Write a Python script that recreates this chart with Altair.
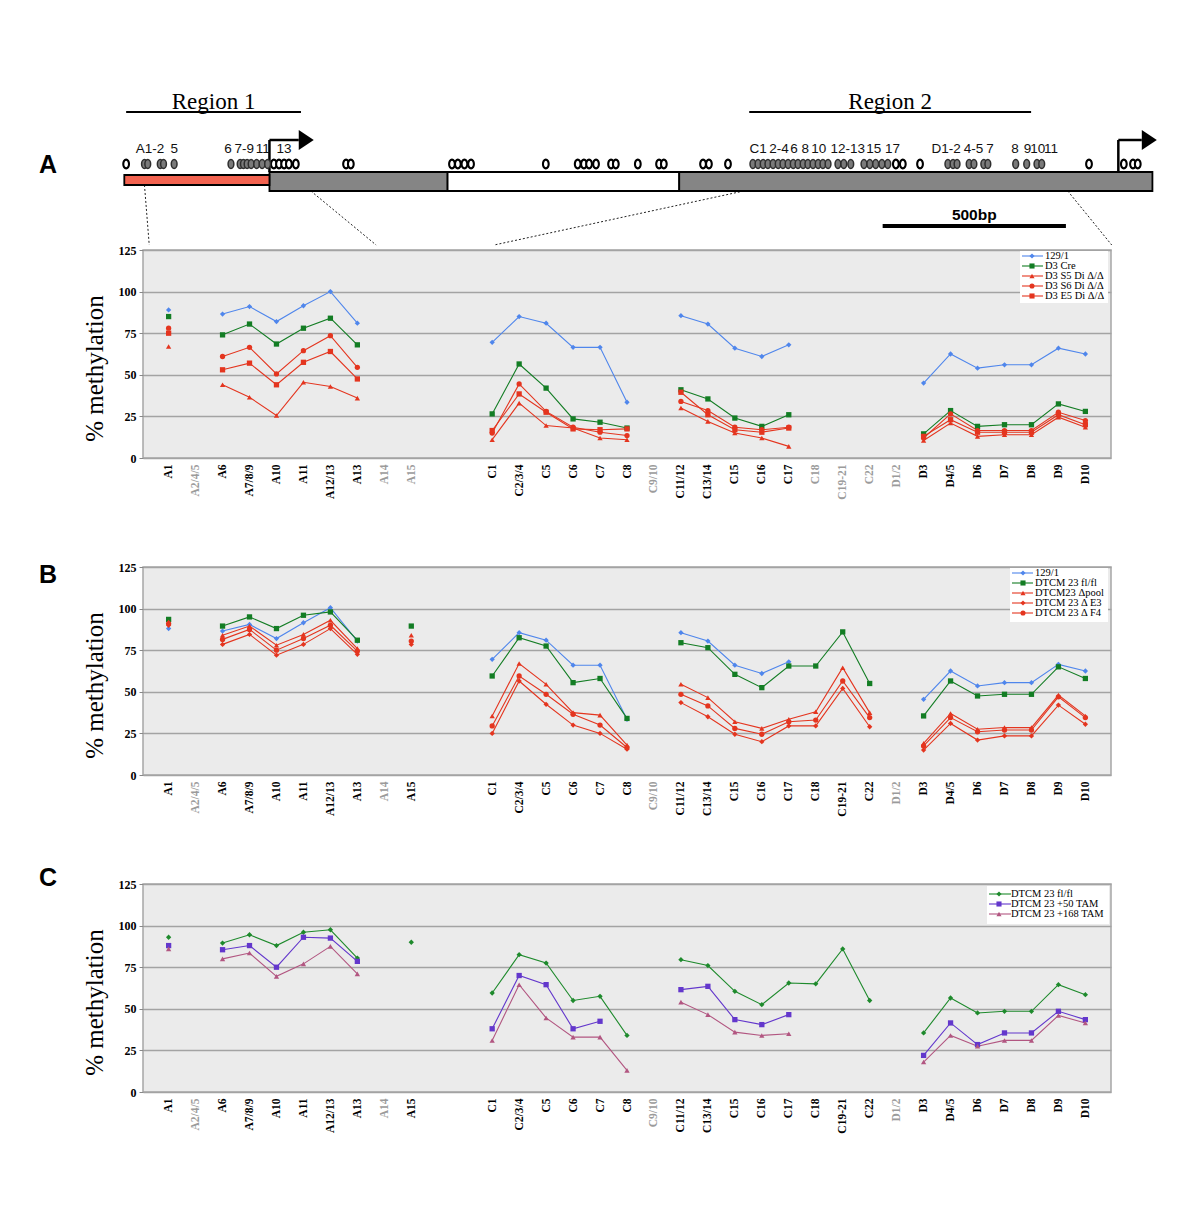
import json
import altair as alt
import pandas as pd

SERIF = "Liberation Serif"
SANS = "Liberation Sans"
N = None

# ---------------- categories (x axis) ----------------
CATS = ["A1", "A2/4/5", "A6", "A7/8/9", "A10", "A11", "A12/13", "A13", "A14", "A15",
        " ", "  ",
        "C1", "C2/3/4", "C5", "C6", "C7", "C8", "C9/10", "C11/12", "C13/14", "C15", "C16",
        "C17", "C18", "C19-21", "C22",
        "D1/2", "D3", "D4/5", "D6", "D7", "D8", "D9", "D10"]

GREY_A = ["A2/4/5", "A14", "A15", "C9/10", "C18", "C19-21", "C22", "D1/2"]
GREY_BC = ["A2/4/5", "A14", "C9/10", "D1/2"]

# ---------------- panel A ----------------
A_NAMES = ["129/1", "D3 Cre", "D3 S5 Di \u0394/\u0394", "D3 S6 Di \u0394/\u0394", "D3 E5 Di \u0394/\u0394"]
#          A1  A2  A6   A7   A10  A11  A12  A13  A14 A15 gap gap C1   C2   C5   C6   C7   C8   C9 C11  C13  C15 C16 C17 C18 C19 C22 D1 D3  D4   D6  D7  D8  D9  D10
A_WT   = [89, N, 86.5, 91, 82, 91.5, 100, 81, N, N, N, N, 69.5, 85, 81, 66.5, 66.5, 33.5, N, 85.5, 80.5, 66, 61, 68, N, N, N, N, 45, 62.5, 54, 56, 56, 66, 62.5]
A_CRE  = [85, N, 74, 80.5, 68.5, 78, 84, 68, N, N, N, N, 26.5, 56.5, 42, 23.5, 21.5, 18, N, 41, 35.5, 24, 19, 26, N, N, N, N, 14.5, 28.5, 19, 20, 20, 32.5, 28]
A_S5   = [67, N, 44, 36.5, 25.5, 45.5, 43, 36, N, N, N, N, 11, 33, 19.5, 18, 12, 11, N, 30, 22, 15, 12, 7, N, N, N, N, 10.5, 21, 13, 14, 14, 24.5, 18.5]
A_S6   = [78, N, 61, 66.5, 50.5, 64.5, 73.5, 54.5, N, N, N, N, 15, 44.5, 28, 18.5, 15.5, 13.5, N, 34, 28.5, 18.5, 17, 18.5, N, N, N, N, 12, 26.5, 16.5, 16.5, 16.5, 27.5, 22.5]
A_E5   = [75, N, 53, 57, 44, 57.5, 64, 47.5, N, N, N, N, 16.5, 38.5, 27.5, 17.5, 17, 17.5, N, 39.5, 26, 17, 15.5, 18, N, N, N, N, 13, 23, 15.5, 15.5, 15.5, 26, 20]

# ---------------- panel B ----------------
B_NAMES = ["129/1", "DTCM 23 fl/fl", "DTCM23 \u0394pool", "DTCM 23 \u0394 E3", "DTCM 23 \u0394 F4"]
B_WT   = [88, N, 86.5, 90.5, 82, 91.5, 100.5, 80.5, N, N, N, N, 69.5, 85.5, 81, 66, 66, 33.5, N, 85.5, 80.5, 66, 61, 68, N, N, N, N, 45.5, 62.5, 53.5, 55.5, 55.5, 66.5, 62.5]
B_FL   = [93.5, N, 89.5, 95, 88, 96, 98, 81, N, 89.5, N, N, 59.5, 82.5, 77.5, 55.5, 58, 34, N, 79.5, 76.5, 60.5, 52.5, 65.5, 65.5, 86, 55, N, 35.5, 56.5, 47.5, 48.5, 48.5, 65, 58]
B_POOL = [92, N, 84, 89.5, 78, 84.5, 93, 76, N, 84, N, N, 35.5, 67, 54.5, 37.5, 36, 18, N, 54.5, 46.5, 32, 28, 33.5, 38, 64.5, 37.5, N, 19, 37, 27.5, 28.5, 28.5, 48, 35.5]
B_E3   = [90, N, 78.5, 84.5, 72, 78.5, 88, 72.5, N, 78.5, N, N, 25, 56.5, 42.5, 30, 25, 15.5, N, 43.5, 35, 24.5, 20, 29.5, 29.5, 52, 29, N, 15, 31, 21, 23.5, 23.5, 42, 30.5]
B_F4   = [91, N, 81.5, 87.5, 75, 82, 90, 74.5, N, 80.5, N, N, 29.5, 59.5, 48.5, 36.5, 30, 16.5, N, 48.5, 41.5, 28, 24.5, 32, 33, 56.5, 34.5, N, 17.5, 34.5, 26, 27, 27, 47, 34.5]

# ---------------- panel C ----------------
C_NAMES = ["DTCM 23 fl/fl", "DTCM 23 +50 TAM", "DTCM 23 +168 TAM"]
C_FL   = [93, N, 89.5, 94.5, 88, 96, 97.5, 80.5, N, 90, N, N, 59.5, 82.5, 77.5, 55, 57.5, 34, N, 79.5, 76, 60.5, 52.5, 65.5, 65, 86, 55, N, 35.5, 56.5, 47.5, 48.5, 48.5, 64.5, 58.5]
C_50   = [88, N, 85.5, 88, 75, 93, 92.5, 78.5, N, N, N, N, 38, 70, 64.5, 38, 42.5, N, N, 61.5, 63.5, 43.5, 40.5, 46.5, N, N, N, N, 22, 41.5, 28.5, 35.5, 35.5, 48.5, 43.5]
C_168  = [86, N, 80, 83.5, 69.5, 77, 87.5, 71, N, N, N, N, 31, 64.5, 44.5, 33, 33, 13, N, 54, 46.5, 36, 34, 35, N, N, N, N, 18, 34, 27.5, 31, 31, 46, 41.5]

# ---------------- gene map (bp) ----------------
REGION_NAMES = ["Region 1", "Region 2"]
REGION_START = [5, 1705]
REGION_END = [482, 2474]
BAR_START = [0, 396, 882, 1514]
BAR_END = [396, 882, 1514, 2805]
BAR_FILL = ["#f36350", "#858585", "#ffffff", "#858585"]
PROMOTER_BP = [396, 2712]
ARROW_END_BP = [476, 2776]
SITES_OPEN = [5, 408, 422, 436, 449, 468, 605, 618, 894, 910, 928, 946, 1150, 1237, 1254,
              1268, 1287, 1328, 1341, 1401, 1459, 1472, 1579, 1595, 1647, 2105, 2124, 2171,
              2632, 2727, 2752, 2765]
SITES_GREY = [55, 64, 98, 107, 136, 291, 316, 325, 335, 346, 361, 376, 391,
              1715, 1729, 1743, 1756, 1770, 1784, 1797, 1811, 1825, 1838, 1852, 1865, 1879,
              1893, 1906, 1920, 1947, 1963, 1982, 2018, 2034, 2050, 2067, 2083,
              2247, 2261, 2272, 2305, 2318, 2345, 2356, 2432, 2462, 2490, 2503]
SITE_LABELS = ["A1-2", "5", "6", "7-9", "11", "13", "C1", "2-4", "6", "8", "10", "12-13",
               "15", "17", "D1-2", "4-5", "7", "8", "9", "10", "11"]
SITE_LABEL_BP = [70, 136, 283, 327, 378, 436, 1729, 1786, 1827, 1858, 1895, 1974,
                 2045, 2096, 2242, 2317, 2362, 2430, 2464, 2492, 2528]
SCALE_START = 2069
SCALE_LEN = 500
CONN_TOP = [55, 509, 1690, 2574]
CONN_BOTTOM = [68, 687, 1009, 2694]

W = 968
H = 208
ELLIPSE = "M0,-1 A0.65,1 0 1,1 0,1 A0.65,1 0 1,1 0,-1 Z"
HEAD = "M0,-1 L1.5,0 L0,1 Z"


def long_df(names, vals):
    rows = []
    for name, vs in zip(names, vals):
        seg = 0
        for cat, v in zip(CATS, vs):
            if v is None:
                seg += 1
                continue
            rows.append({"cat": cat, "value": v, "series": name, "seg": f"{name}|{seg}"})
    return pd.DataFrame(rows)


def panel(names, vals, colors, shapes, grey, letter, letter_y, box, rows_y, line_x, mark_x, text_x):
    df = long_df(names, vals)
    color = alt.Color("series:N", scale=alt.Scale(domain=names, range=colors), legend=None)
    shape = alt.Shape("series:N", scale=alt.Scale(domain=names, range=shapes), legend=None)
    label_color = {"condition": {"test": f"indexof({json.dumps(grey)}, datum.value) >= 0",
                                 "value": "#9b9b9b"}, "value": "#000000"}
    x = alt.X("cat:N", scale=alt.Scale(type="point", domain=CATS, padding=0.95),
              axis=alt.Axis(title=None, labelAngle=-90, labelFont=SERIF, labelFontSize=11.5,
                            labelFontWeight="bold", labelColor=label_color, ticks=False,
                            domain=False, labelPadding=6, labelOverlap=False, grid=False))
    y = alt.Y("value:Q", scale=alt.Scale(domain=[0, 125], nice=False),
              axis=alt.Axis(values=[0, 25, 50, 75, 100, 125], title="% methylation",
                            titleFont=SERIF, titleFontSize=25, titleFontWeight="normal",
                            titleColor="black", titleX=-49, titleY=118, titleAngle=270,
                            titleAlign="center", titleBaseline="middle",
                            labelFont=SERIF, labelFontSize=12, labelFontWeight="bold",
                            labelColor="black", labelPadding=3, tickSize=4, tickColor="#888888",
                            domain=False, grid=True, gridColor="#a3a3a3", gridWidth=1.4))
    base = alt.Chart(df)
    lines = base.mark_line(strokeWidth=1.1).encode(x=x, y=y, color=color, detail="seg:N")
    pts = base.mark_point(filled=True, size=28, opacity=1).encode(x=x, y=y, color=color, shape=shape)
    let = alt.Chart(pd.DataFrame({"t": [letter]})).mark_text(
        font=SANS, fontSize=25, fontWeight="bold", color="black").encode(
        x=alt.value(-95), y=alt.value(letter_y), text="t:N")

    leg = pd.DataFrame({"series": names})
    ly = alt.Y("series:N", scale=alt.Scale(type="point", domain=names, range=rows_y, padding=0), axis=None)
    bg = alt.Chart(pd.DataFrame({"k": [0]})).mark_rect(fill="white").encode(
        x=alt.value(box[0]), x2=alt.value(box[1]), y=alt.value(box[2]), y2=alt.value(box[3]))
    lrule = alt.Chart(leg).mark_rule(strokeWidth=1.1).encode(
        x=alt.value(line_x[0]), x2=alt.value(line_x[1]), y=ly, color=color)
    lpts = alt.Chart(leg).mark_point(filled=True, size=26, opacity=1).encode(
        x=alt.value(mark_x), y=ly, color=color, shape=shape)
    ltxt = alt.Chart(leg).mark_text(align="left", baseline="middle", font=SERIF, fontSize=10.5,
                                    color="black").encode(x=alt.value(text_x), y=ly, text="series:N")
    main = alt.layer(lines, pts, let)
    legend = alt.layer(bg, lrule, lpts, ltxt)
    return alt.layer(main, legend).resolve_scale(y="independent").properties(
        width=W, height=H,
        view=alt.ViewBackground(fill="#ebebeb", stroke="#a6a6a6", strokeWidth=1.5))


# ---------------- gene map chart ----------------
xs = alt.Scale(domain=[51, 2692], nice=False, zero=False)
reg = pd.DataFrame({"name": REGION_NAMES, "start": REGION_START, "end": REGION_END})
reg_txt = alt.Chart(reg).transform_calculate(mid="(datum.start + datum.end) / 2").mark_text(
    font=SERIF, fontSize=23, color="black", baseline="middle").encode(
    x=alt.X("mid:Q", scale=xs, axis=None), y=alt.value(21), text="name:N")
reg_line = alt.Chart(reg).mark_rule(strokeWidth=2, color="black").encode(
    x=alt.X("start:Q", scale=xs, axis=None), x2="end:Q", y=alt.value(31))

bars = pd.DataFrame({"start": BAR_START, "end": BAR_END, "fill": BAR_FILL})
bar_main = alt.Chart(bars.iloc[1:]).mark_rect(stroke="black", strokeWidth=1.8).encode(
    x=alt.X("start:Q", scale=xs, axis=None), x2="end:Q", y=alt.value(91), y2=alt.value(110),
    fill=alt.Fill("fill:N", scale=None))
bar_red = alt.Chart(bars.iloc[:1]).mark_rect(stroke="black", strokeWidth=1.8).encode(
    x=alt.X("start:Q", scale=xs, axis=None), x2="end:Q", y=alt.value(94), y2=alt.value(104),
    fill=alt.Fill("fill:N", scale=None))

prom = pd.DataFrame({"site": PROMOTER_BP, "end": ARROW_END_BP})
prom_v = alt.Chart(prom).mark_rule(strokeWidth=2.5, color="black").encode(
    x=alt.X("site:Q", scale=xs, axis=None), y=alt.value(59), y2=alt.value(91))
prom_h = alt.Chart(prom).mark_rule(strokeWidth=2.5, color="black").encode(
    x=alt.X("site:Q", scale=xs, axis=None), x2="end:Q", y=alt.value(59))
prom_head = alt.Chart(prom).mark_point(shape=HEAD, size=400, filled=True, color="black", opacity=1).encode(
    x=alt.X("end:Q", scale=xs, axis=None), y=alt.value(59))

s_open = alt.Chart(pd.DataFrame({"bp": SITES_OPEN})).mark_point(
    shape=ELLIPSE, size=78, filled=True, fill="white", stroke="black", strokeWidth=2.1, opacity=1).encode(
    x=alt.X("bp:Q", scale=xs, axis=None), y=alt.value(83))
s_grey = alt.Chart(pd.DataFrame({"bp": SITES_GREY})).mark_point(
    shape=ELLIPSE, size=78, filled=True, fill="#7a7a7a", stroke="#2e2e2e", strokeWidth=1.5, opacity=1).encode(
    x=alt.X("bp:Q", scale=xs, axis=None), y=alt.value(83))
s_lab = alt.Chart(pd.DataFrame({"t": SITE_LABELS, "bp": SITE_LABEL_BP})).mark_text(
    font=SANS, fontSize=13.5, color="#111111", baseline="middle").encode(
    x=alt.X("bp:Q", scale=xs, axis=None), y=alt.value(68), text="t:N")

sc = pd.DataFrame({"start": [SCALE_START], "len": [SCALE_LEN]})
sc_bar = alt.Chart(sc).transform_calculate(end="datum.start + datum.len").mark_rule(
    strokeWidth=4, color="black").encode(
    x=alt.X("start:Q", scale=xs, axis=None), x2="end:Q", y=alt.value(145))
sc_txt = alt.Chart(sc).transform_calculate(
    mid="datum.start + datum.len / 2", lab="datum.len + 'bp'").mark_text(
    font=SANS, fontSize=15.5, fontWeight="bold", color="black", baseline="middle").encode(
    x=alt.X("mid:Q", scale=xs, axis=None), y=alt.value(134), text="lab:N")

conn = pd.DataFrame({"top": CONN_TOP, "bottom": CONN_BOTTOM})
conn_red = alt.Chart(conn.iloc[:1]).mark_rule(strokeWidth=1, strokeDash=[2, 2], color="#222222").encode(
    x=alt.X("top:Q", scale=xs, axis=None), x2="bottom:Q", y=alt.value(104), y2=alt.value(164))
conn_grey = alt.Chart(conn.iloc[1:]).mark_rule(strokeWidth=1, strokeDash=[2, 2], color="#222222").encode(
    x=alt.X("top:Q", scale=xs, axis=None), x2="bottom:Q", y=alt.value(110), y2=alt.value(164))

letA = alt.Chart(pd.DataFrame({"t": ["A"]})).mark_text(
    font=SANS, fontSize=25, fontWeight="bold", color="black").encode(
    x=alt.value(-95), y=alt.value(84), text="t:N")

diagram = alt.layer(conn_red, conn_grey, reg_line, reg_txt, bar_main, bar_red, prom_v, prom_h,
                    prom_head, s_open, s_grey, s_lab, sc_bar, sc_txt, letA).properties(
    width=W, height=60, view=alt.ViewBackground(stroke="transparent"))

BLUE, GREEN, RED = "#4f86ec", "#137d24", "#e4351f"
pA = panel(A_NAMES, [A_WT, A_CRE, A_S5, A_S6, A_E5], [BLUE, GREEN, RED, RED, RED],
           ["diamond", "square", "triangle-up", "circle", "square"], GREY_A, "", 0,
           [877, 965, 1, 53], [6, 46], [879, 900], 889, 902)
pB = panel(B_NAMES, [B_WT, B_FL, B_POOL, B_E3, B_F4], [BLUE, GREEN, RED, RED, RED],
           ["diamond", "square", "triangle-up", "diamond", "circle"], GREY_BC, "B", 8,
           [867, 965, 1, 55], [6, 46], [869, 890], 880, 892)
pC = panel(C_NAMES, [C_FL, C_50, C_168], ["#1e8a2c", "#6337cc", "#b25681"],
           ["diamond", "square", "triangle-up"], GREY_BC, "C", -6,
           [844, 966, 2, 40], [10, 30], [846, 868], 856, 868)

chart = alt.vconcat(diagram, pA, pB, pC, spacing=109, bounds="flush").resolve_scale(
    color="independent", shape="independent"
).properties(
    padding={"left": 30, "top": 73, "right": 5, "bottom": 5}
).configure_view(strokeWidth=0)

chart.save("out.html", embed_options={"renderer": "svg", "actions": False})
